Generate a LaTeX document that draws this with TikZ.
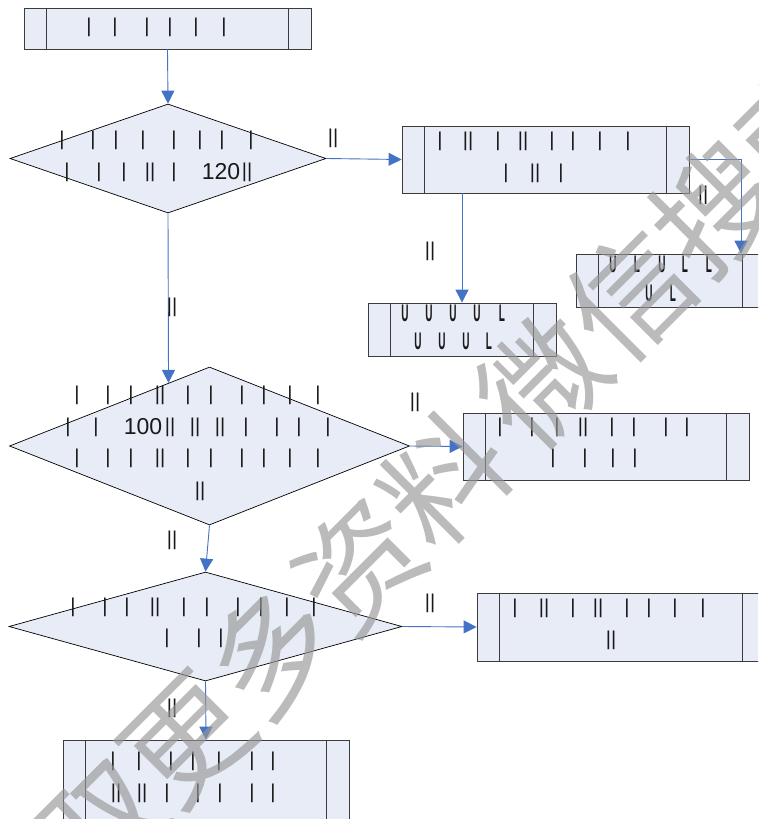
\documentclass[tikz,border=0pt]{standalone}
\usepackage{fontspec}
\usepackage{graphicx}
\setmainfont{Liberation Sans}
\newfontfamily\cjkwm{Noto Sans CJK SC}
\usetikzlibrary{shapes.geometric,arrows.meta,calc}
\definecolor{boxfill}{RGB}{232,236,247}
\definecolor{boxline}{RGB}{60,60,60}
\definecolor{conn}{RGB}{68,114,196}
\definecolor{wmgray}{RGB}{150,150,150}
\newcommand\glrow[3]{\foreach \x/\t [count=\i] in {#3} {\node[glyph] (#1-\i) at (\x,#2) {\t};}}
\newcommand\glU{\scalebox{0.5}[1.2]{\bfseries U}}
\newcommand\glL{\scalebox{0.5}[1.2]{\bfseries L}}
\tikzset{
  procbox/.style={draw=boxline, fill=boxfill, line width=0.8pt, inner sep=0pt,
    path picture={\draw[boxline,line width=0.8pt]
      ([xshift=22.5pt]path picture bounding box.north west) -- ([xshift=22.5pt]path picture bounding box.south west)
      ([xshift=-22.5pt]path picture bounding box.north east) -- ([xshift=-22.5pt]path picture bounding box.south east);}},
  decide/.style={diamond, draw=black, fill=boxfill, line width=0.7pt, inner sep=0pt, aspect=1},
  glyph/.style={inner sep=0pt, font=\fontsize{20}{20}\selectfont, text=black!90},
  digits/.style={inner sep=0pt, font=\fontsize{23}{23}\selectfont, text=black!90},
  lab/.style={inner sep=0pt, font=\fontsize{20}{20}\selectfont, text=black!90},
  flow/.style={draw=conn, line width=0.9pt, -{Triangle[length=13pt,width=13pt,fill=conn]}},
  wm/.style={rotate=45, font=\cjkwm\fontsize{122}{122}\selectfont, text=wmgray, text opacity=0.65, inner sep=0pt}
}
\begin{document}
\begin{tikzpicture}[x=1pt,y=-1pt]
\useasboundingbox (0,0) rectangle (758,819);
\clip (0,0) rectangle (758,819);
% boxes
\node[procbox, minimum width=287pt, minimum height=41pt] (b1) at (167.5,28.5) {};
\node[procbox, minimum width=287pt, minimum height=67pt] (b2) at (545.5,159.5) {};
\node[procbox, minimum width=188pt, minimum height=53pt] (b3) at (462,329.5) {};
\node[procbox, minimum width=189pt, minimum height=53pt] (b4) at (670.5,280.5) {};
\node[procbox, minimum width=286pt, minimum height=67pt] (b5) at (606,446.5) {};
\node[procbox, minimum width=288pt, minimum height=68pt] (b6) at (621,627) {};
\node[procbox, minimum width=286pt, minimum height=90pt] (b7) at (206,785) {};
% decisions
\node[decide, minimum width=316pt, minimum height=109pt] (d1) at (168,158.5) {};
\node[decide, minimum width=400pt, minimum height=158pt] (d2) at (209.5,446) {};
\node[decide, minimum width=393pt, minimum height=109pt] (d3) at (205.5,626.5) {};
% connectors
\draw[flow] (b1.south) -- (d1.north);
\draw[flow] (d1.east) -- (b2.west);
\draw[flow] (b3.north |- b2.south) -- (b3.north);
\draw[flow] (b2.east) -| ([xshift=70.5pt]b4.north);
\draw[flow] (d1.south) -- (d2.123.6);
\draw[flow] (d2.east) -- (b5.west);
\draw[flow] (d2.south) -- (d3.north);
\draw[flow] (d3.east) -- (b6.west);
\draw[flow] (d3.south) -- (b7.north);
% labels
\node[lab] (l1) at (333,138) {||};
\node[lab] (l2) at (430,251) {||};
\node[lab] (l3) at (703,195) {||};
\node[lab] (l4) at (172,307) {||};
\node[lab] (l5) at (415,402) {||};
\node[lab] (l6) at (172,540) {||};
\node[lab] (l7) at (430,603) {||};
\node[lab] (l8) at (172,708) {||};
% texts
\glrow{t1}{27}{89/|,115/|,147/|,170/|,196/|,224/|}
\glrow{t2}{140}{62/|,93/|,116/|,143/|,174/|,200/|,222/|,251/|}
\glrow{t3}{172}{67/|,99/|,124/|,150/||,174/|,247/||}
\node[digits] (n120) at (221,172) {120};
\glrow{t4}{141}{440/|,468/||,498/|,523/||,552/|,573/|,600/|,628/|}
\glrow{t5}{173}{506/|,535/||,561/|}
\glrow{t6}{313}{405/\glU,429/\glU,453/\glU,477/\glU,502/\glL}
\glrow{t7}{341}{418/\glU,442/\glU,466/\glU,489/\glL}
\glrow{t8}{264}{613/\glU,637/\glL,662/\glU,685/\glL,709/\glL}
\glrow{t9}{293}{649/\glU,673/\glL}
\glrow{t10}{427}{500/|,532/|,557/|,583/||,612/|,634/|,666/|,687/|}
\glrow{t11}{458}{553/|,585/|,613/|,635/|}
\glrow{t12}{395}{77/|,108/|,131/|,160/||,188/|,211/|,242/|,264/|,290/|,318/|}
\glrow{t13}{427}{68/|,96/|,170/||,195/||,220/||,246/|,277/|,299/|,328/|}
\node[digits] (n100) at (143,427) {100};
\glrow{t14}{458}{77/|,108/|,131/|,160/||,188/|,211/|,242/|,264/|,290/|,318/|}
\glrow{t15}{491}{200/||}
\glrow{t16}{608}{515/|,544/||,573/|,598/||,627/|,649/|,675/|,703/|}
\glrow{t17}{640}{611/||}
\glrow{t18}{607}{73/|,105/|,127/|,155/||,184/|,207/|,238/|,261/|,287/|,314/|}
\glrow{t19}{638}{167/|,199/|,221/|}
\glrow{t20}{761}{113/|,139/|,171/|,193/|,219/|,252/|,273/|}
\glrow{t21}{793}{116/||,142/||,167/|,198/|,220/|,252/|,273/|}
% watermark
\node[wm, anchor=east] (wm1) at (488,436) {取更多资料};
\node[wm, anchor=west] (wm2) at (500,424) {微信搜索};
\end{tikzpicture}
\end{document}
